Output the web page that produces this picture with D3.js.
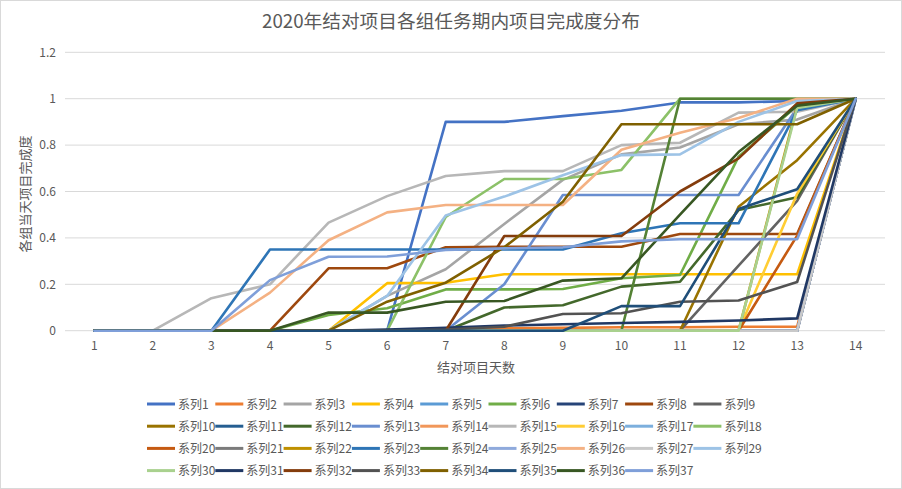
<!DOCTYPE html>
<html><head><meta charset="utf-8">
<script src="https://cdn.jsdelivr.net/npm/d3@7"></script>
<style>
body{margin:0;background:#fff}
text{font-family:"Noto Sans CJK SC","Noto Sans",sans-serif;fill:#595959}
</style>
</head><body>
<svg id="c" width="902" height="489"></svg>
<script>
// ---- data ----
const days = [1,2,3,4,5,6,7,8,9,10,11,12,13,14];
const yTicks = [0,0.2,0.4,0.6,0.8,1,1.2];
const title = "2020年结对项目各组任务期内项目完成度分布";
const xTitle = "结对项目天数";
const yTitle = "各组当天项目完成度";

const s1  = [0,0,0,0,0,0,0.9,0.9,0.925,0.948,0.984,0.984,0.99,1];
const s2  = [0,0,0,0,0,0,0,0.01,0.012,0.015,0.015,0.017,0.017,1];
const s3  = [0,0,0,0,0,0.15,0.265,0.46,0.65,0.76,0.79,0.89,0.91,1];
const s4  = [0,0,0,0,0,0.205,0.207,0.243,0.243,0.243,0.243,0.243,0.243,1];
const s5  = [0,0,0,0,0,0,0,0,0,0,0,0,0,1];
const s6  = [0,0,0,0,0.068,0.097,0.178,0.178,0.18,0.226,0.24,0.75,0.97,1];
const s7  = [0,0,0,0,0,0,0,0,0,0,0,0,0,1];
const s8  = [0,0,0,0,0.269,0.269,0.36,0.362,0.362,0.362,0.417,0.417,0.417,1];
const s9  = [0,0,0,0,0,0,0,0,0,0,0,0.28,0.56,1];
const s10 = [0,0,0,0,0,0,0,0,0,0,0,0.534,0.735,1];
const s11 = [0,0,0,0,0,0,0,0,0,0,0,0,0,1];
const s12 = [0,0,0,0,0,0,0,0.1,0.11,0.19,0.211,0.52,0.575,1];
const s13 = [0,0,0,0,0,0,0,0.2,0.585,0.585,0.585,0.585,0.96,1];
const s14 = [0,0,0,0,0,0,0,0,0,0,0,0,0,1];
const s15 = [0,0,0.14,0.2,0.466,0.58,0.667,0.688,0.688,0.8,0.81,0.94,0.944,1];
const s16 = [0,0,0,0,0,0,0,0,0,0,0,0,0.59,1];
const s17 = [0,0,0,0,0,0,0,0,0,0,0,0,0,1];
const s18 = [0,0,0,0,0,0,0.49,0.654,0.654,0.693,1,1,1,1];
const s20 = [0,0,0,0,0,0,0,0,0,0,0,0,0.41,1];
const s21 = [0,0,0,0,0,0,0,0,0,0,0,0,0,1];
const s22 = [0,0,0,0,0,0,0,0,0,0,0,0,0.97,1];
const s23 = [0,0,0,0.35,0.35,0.35,0.35,0.35,0.35,0.42,0.463,0.463,0.95,1];
const s24 = [0,0,0,0,0,0,0,0,0,0,1,1,1,1];
const s25 = [0,0,0,0,0,0,0,0,0,0,0,0,0,1];
const s26 = [0,0,0,0.164,0.39,0.51,0.542,0.542,0.542,0.78,0.853,0.917,1,1];
const s27 = [0,0,0,0,0,0,0,0,0,0,0,0,0,1];
const s29 = [0,0,0,0,0,0.15,0.497,0.578,0.67,0.757,0.76,0.9,0.99,1];
const s30 = [0,0,0,0,0,0,0,0,0,0,0,0,0.96,1];
const s31 = [0,0,0,0,0,0.005,0.012,0.022,0.028,0.033,0.038,0.044,0.053,1];
const s32 = [0,0,0,0,0,0,0,0.408,0.408,0.408,0.6,0.743,0.98,1];
const s33 = [0,0,0,0,0,0,0.005,0.017,0.072,0.075,0.125,0.13,0.21,1];
const s34 = [0,0,0,0,0,0.125,0.207,0.36,0.556,0.89,0.89,0.89,0.89,1];
const s35 = [0,0,0,0,0,0,0,0,0,0.106,0.106,0.525,0.61,1];
const s36 = [0,0,0,0,0.078,0.078,0.125,0.128,0.216,0.226,0.5,0.77,0.97,1];
const s37 = [0,0,0,0.218,0.319,0.32,0.348,0.355,0.36,0.385,0.394,0.394,0.394,1];

const seriesNames = ["系列1","系列2","系列3","系列4","系列5","系列6","系列7","系列8","系列9",
  "系列10","系列11","系列12","系列13","系列14","系列15","系列16","系列17","系列18",
  "系列20","系列21","系列22","系列23","系列24","系列25","系列26","系列27","系列29",
  "系列30","系列31","系列32","系列33","系列34","系列35","系列36","系列37"];
const seriesValues = [s1,s2,s3,s4,s5,s6,s7,s8,s9,s10,s11,s12,s13,s14,s15,s16,s17,s18,
  s20,s21,s22,s23,s24,s25,s26,s27,s29,s30,s31,s32,s33,s34,s35,s36,s37];
const seriesColors = ["#4472C4","#ED7D31","#A5A5A5","#FFC000","#5B9BD5","#70AD47","#264478","#9E480E","#636363",
  "#997300","#255E91","#43682B","#698ED0","#F1975A","#B7B7B7","#FFCD33","#7CAFDD","#8CC168",
  "#C55A11","#7B7B7B","#BF9000","#2E75B6","#548235","#8FAADC","#F4B183","#C9C9C9","#9DC3E6",
  "#A9D18E","#203864","#843C0C","#525252","#7F6000","#1F4E79","#385723","#7F9FD9"];

// ---- drawing ----
const svg = d3.select("#c");
svg.append("rect").attr("x",0.5).attr("y",0.5).attr("width",901).attr("height",488)
  .attr("fill","#fff").attr("stroke","#D9D9D9");

const x = d3.scaleBand().domain(days).range([65,885]);
const cx = d => x(d) + x.bandwidth()/2;
const y = d3.scaleLinear().domain([0,1.2]).range([330.7,52.3]);

// gridlines
svg.append("g").selectAll("line").data(yTicks).join("line")
  .attr("x1",65).attr("x2",885).attr("y1",d=>y(d)).attr("y2",d=>y(d))
  .attr("stroke","#D9D9D9").attr("stroke-width",1);

// y axis labels
const yAxis = d3.axisLeft(y).tickValues(yTicks).tickSize(0).tickPadding(0)
  .tickFormat(d => d3.format("~g")(d));
const ya = svg.append("g").attr("transform","translate(56,0)").call(yAxis);
ya.select(".domain").remove();
ya.selectAll("text").style("font-size","12px").attr("fill","#595959")
  .style("font-family","'Noto Sans CJK SC',sans-serif");

// x axis labels
const xAxis = d3.axisBottom(x).tickSize(0).tickPadding(0);
const xa = svg.append("g").attr("transform","translate(0,341)").call(xAxis);
xa.select(".domain").remove();
xa.selectAll("text").style("font-size","12px").attr("fill","#595959")
  .style("font-family","'Noto Sans CJK SC',sans-serif");

// lines
const line = d3.line().x((v,i)=>cx(days[i])).y(v=>y(v));
svg.append("g").selectAll("path").data(seriesValues).join("path")
  .attr("d", d=>line(d)).attr("fill","none")
  .attr("stroke",(d,i)=>seriesColors[i]).attr("stroke-width",2.6)
  .attr("stroke-linejoin","round").attr("stroke-linecap","round");

// titles
svg.append("text").attr("x",451).attr("y",28).attr("text-anchor","middle")
  .style("font-size","18.7px").text(title);
svg.append("text").attr("x",476).attr("y",372).attr("text-anchor","middle")
  .style("font-size","13px").text(xTitle);
svg.append("text").attr("transform","translate(30,194) rotate(-90)").attr("text-anchor","middle")
  .style("font-size","13px").text(yTitle);

// legend
const lg = svg.append("g");
seriesNames.forEach((n,i)=>{
  const col = i % 9, row = Math.floor(i/9);
  const lx = 147 + col*68.3, ly = 404 + row*22.2;
  lg.append("line").attr("x1",lx).attr("x2",lx+28).attr("y1",ly).attr("y2",ly)
    .attr("stroke",seriesColors[i]).attr("stroke-width",3);
  lg.append("text").attr("x",lx+31).attr("y",ly+4.5).style("font-size","12px").text(n);
});
</script>
</body></html>
